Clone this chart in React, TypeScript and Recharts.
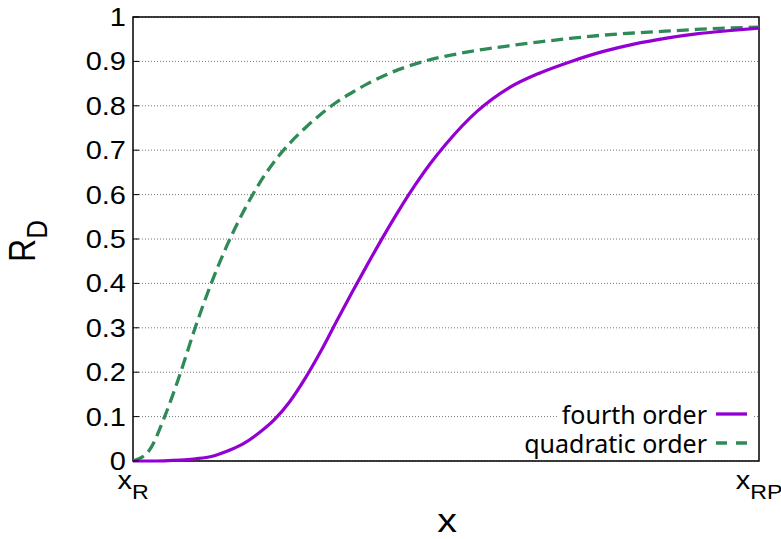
import React from 'react';
import { LineChart, Line, XAxis, YAxis, CartesianGrid, ReferenceArea, Legend } from 'recharts';

// position between x_R (0) and x_RP (1)
const xs = [
  0, 0.025, 0.05, 0.075, 0.1, 0.125, 0.15, 0.175, 0.2, 0.225, 0.25, 0.275, 0.3, 0.325, 0.35,
  0.375, 0.4, 0.425, 0.45, 0.475, 0.5, 0.55, 0.6, 0.65, 0.7, 0.75, 0.8, 0.85, 0.9, 0.95, 1,
];
const fourthOrder = [
  0, 0, 0.0005, 0.002, 0.005, 0.01, 0.022, 0.038, 0.062, 0.092, 0.133, 0.186, 0.247, 0.314, 0.38,
  0.444, 0.506, 0.565, 0.62, 0.67, 0.714, 0.788, 0.84, 0.874, 0.9, 0.922, 0.939, 0.952, 0.962, 0.969, 0.975,
];
const quadraticOrder = [
  0, 0.022, 0.098, 0.195, 0.303, 0.4, 0.485, 0.558, 0.621, 0.673, 0.715, 0.75, 0.781, 0.808, 0.83,
  0.85, 0.867, 0.882, 0.894, 0.904, 0.912, 0.925, 0.935, 0.944, 0.952, 0.959, 0.964, 0.968, 0.972, 0.975, 0.977,
];

const yTicks = [0, 0.1, 0.2, 0.3, 0.4, 0.5, 0.6, 0.7, 0.8, 0.9, 1];
const yTickLabels = ['0', '0.1', '0.2', '0.3', '0.4', '0.5', '0.6', '0.7', '0.8', '0.9', '1'];
const xTicks = [0, 1];
const xTickLabels = [['x', 'R'], ['x', 'RP']];
const seriesNames = ['fourth order', 'quadratic order'];

const data = xs.map((x, i) => ({ x, fourth: fourthOrder[i], quadratic: quadraticOrder[i] }));

const AXIS_FONT = '"Liberation Sans", Arial, sans-serif';
const LEGEND_FONT = '"Noto Sans", "Open Sans", sans-serif';
const STRETCH = 1.16;
const PURPLE = '#9400d3';
const GREEN = '#2e8b57';
const DASH = '12 6';

const findIdx = (arr: number[], v: number) => arr.findIndex((t) => Math.abs(t - v) < 1e-9);

const LeftTick = (props: any) => {
  const { x, y, payload } = props;
  const i = findIdx(yTicks, payload.value);
  return (
    <g>
      <line x1={x + 7} x2={x + 13} y1={y} y2={y} stroke="#000" strokeWidth={1} />
      <text
        transform={`translate(${x},${y + 9}) scale(${STRETCH},1)`}
        textAnchor="end"
        fontSize={25}
        fontFamily={AXIS_FONT}
        fill="#000"
      >
        {i >= 0 ? yTickLabels[i] : payload.value}
      </text>
    </g>
  );
};

const RightTick = (props: any) => {
  const { x, y } = props;
  return <line x1={x - 6} x2={x} y1={y} y2={y} stroke="#000" strokeWidth={1} />;
};

const BottomTick = (props: any) => {
  const { x, y, payload } = props;
  const i = findIdx(xTicks, payload.value);
  const [main, sub] = xTickLabels[i] || [String(payload.value), ''];
  return (
    <text
      transform={`translate(${x},${y + 28}) scale(${STRETCH},1)`}
      textAnchor="middle"
      fontSize={25}
      fontFamily={AXIS_FONT}
      fill="#000"
    >
      <tspan>{main}</tspan>
      <tspan dy={10} fontSize={20}>{sub}</tspan>
    </text>
  );
};

const YLabel = ({ viewBox }: any) => {
  const cy = viewBox.y + viewBox.height / 2 + 2;
  return (
    <text
      transform={`translate(35,${cy}) scale(${STRETCH},1) rotate(-90)`}
      textAnchor="middle"
      fontSize={32}
      fontFamily={AXIS_FONT}
      fill="#000"
    >
      <tspan>R</tspan>
      <tspan dy={10} fontSize={26}>D</tspan>
    </text>
  );
};

const XLabel = ({ viewBox }: any) => {
  const cx = viewBox.x + viewBox.width / 2 + 1;
  return (
    <text
      transform={`translate(${cx},${viewBox.y + 71}) scale(${STRETCH},1)`}
      textAnchor="middle"
      fontSize={34}
      fontFamily={AXIS_FONT}
      fill="#000"
    >
      x
    </text>
  );
};

const renderLegend = () => (
  <div
    style={{
      display: 'flex',
      flexDirection: 'column',
      alignItems: 'flex-end',
      fontFamily: LEGEND_FONT,
      fontSize: 25,
      color: '#000',
    }}
  >
    {seriesNames.map((name, i) => (
      <div
        key={name}
        style={{
          height: 29,
          display: 'flex',
          alignItems: 'center',
          whiteSpace: 'nowrap',
          background: '#fff',
          paddingLeft: 3,
        }}
      >
        <span>{name}</span>
        <svg width={31} height={6} style={{ marginLeft: 9, marginRight: 7, flexShrink: 0 }}>
          <line
            x1={0}
            x2={31}
            y1={3}
            y2={3}
            stroke={i === 0 ? PURPLE : GREEN}
            strokeWidth={3.3}
            strokeDasharray={i === 0 ? undefined : '11 9'}
          />
        </svg>
      </div>
    ))}
  </div>
);

export default function App() {
  return (
    <div style={{ position: 'absolute', left: 0, top: 0 }}>
      <LineChart width={781} height={539} data={data} margin={{ top: 17, right: 0, bottom: 0, left: 0 }}>
        <CartesianGrid vertical={false} stroke="#777" strokeDasharray="1 2" />
        <XAxis
          dataKey="x"
          type="number"
          domain={[0, 1]}
          ticks={xTicks}
          interval={0}
          height={78}
          axisLine={false}
          tickLine={false}
          tickSize={0}
          tickMargin={0}
          tick={<BottomTick />}
          label={XLabel}
        />
        <YAxis
          domain={[0, 1]}
          ticks={yTicks}
          interval={0}
          width={133}
          axisLine={false}
          tickLine={false}
          tickSize={0}
          tickMargin={7}
          tick={<LeftTick />}
          label={YLabel}
        />
        <YAxis
          yAxisId="r"
          orientation="right"
          domain={[0, 1]}
          ticks={yTicks}
          interval={0}
          width={22}
          axisLine={false}
          tickLine={false}
          tickSize={0}
          tickMargin={0}
          tick={<RightTick />}
        />
        <Line
          type="monotone"
          dataKey="quadratic"
          name={seriesNames[1]}
          stroke={GREEN}
          strokeWidth={3.3}
          strokeDasharray={DASH}
          dot={false}
          isAnimationActive={false}
        />
        <Line
          type="monotone"
          dataKey="fourth"
          name={seriesNames[0]}
          stroke={PURPLE}
          strokeWidth={3.2}
          dot={false}
          isAnimationActive={false}
        />
        <ReferenceArea x1={0} x2={1} y1={0} y2={1} fill="none" fillOpacity={0} stroke="#000" strokeWidth={1.5} />
        <Legend
          layout="horizontal"
          verticalAlign="middle"
          align="center"
          content={renderLegend}
          wrapperStyle={{ left: 494, top: 399, width: 260, height: 58 }}
        />
      </LineChart>
    </div>
  );
}
